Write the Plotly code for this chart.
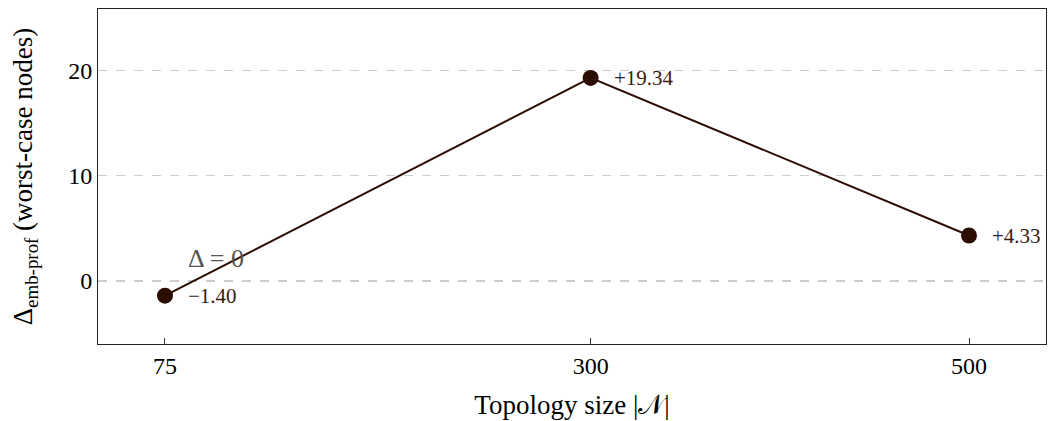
import plotly.graph_objects as go

sizes = [75, 300, 500]
delta = [-1.40, 19.34, 4.33]
labels = ["\u22121.40", "+19.34", "+4.33"]
yticks = [0, 10, 20]

FONT = "Liberation Serif"
DARK = "#2b0d02"

fig = go.Figure()
fig.add_trace(go.Scatter(
    x=sizes, y=delta, mode="lines+markers",
    line=dict(color=DARK, width=2),
    marker=dict(color=DARK, size=16),
    hoverinfo="skip", showlegend=False,
))

for xv, yv, t in zip(sizes, delta, labels):
    fig.add_annotation(x=xv, y=yv, text=t, showarrow=False, xanchor="left",
                       yanchor="middle", xshift=21,
                       font=dict(family=FONT, size=21, color="#3a1a10"))

fig.add_shape(type="line", xref="paper", x0=0, x1=1, yref="y", y0=0, y1=0,
              line=dict(color="#9a9a9a", width=1.2, dash="dash"), layer="below")
fig.add_annotation(x=86, y=2.1, text="\u0394 = 0", showarrow=False, xanchor="left",
                   yanchor="middle", font=dict(family=FONT, size=26, color="#555555"))

fig.update_layout(
    width=1047, height=413,
    margin=dict(l=90, r=9, t=1, b=77),
    plot_bgcolor="white", paper_bgcolor="white",
    font=dict(family=FONT, size=24, color="black"),
)
fig.update_xaxes(
    range=[39.6, 540.7], tickvals=sizes, ticktext=[str(s) for s in sizes],
    ticks="inside", ticklen=6, tickcolor="#333",
    showline=True, linecolor="#222", linewidth=1, mirror=True,
    showgrid=False, zeroline=False, automargin=False,
    title=dict(text="Topology size |\U0001D4A9|", font=dict(size=27), standoff=17),
    tickfont=dict(size=24),
)
fig.update_yaxes(
    range=[-6.0, 25.9], tickvals=yticks,
    ticks="", showline=True, linecolor="#222", linewidth=1, mirror=True,
    showgrid=True, gridcolor="#cccccc", griddash="dash", gridwidth=1,
    zeroline=False, automargin=False,
    title=dict(text="\u0394<sub>emb-prof</sub> (worst-case nodes)", font=dict(size=27), standoff=27),
    tickfont=dict(size=24),
)

fig.write_html("out.html")
